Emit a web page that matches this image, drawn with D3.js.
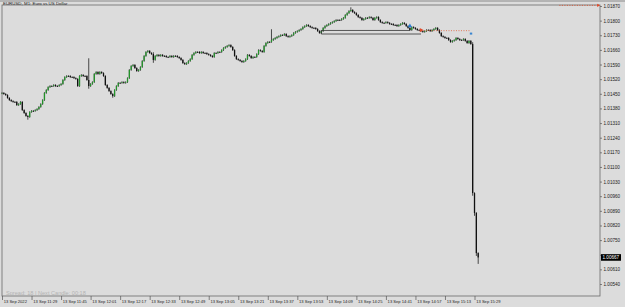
<!DOCTYPE html>
<html>
<head>
<meta charset="utf-8">
<script src="https://cdn.jsdelivr.net/npm/d3@7"></script>
<style>
  body { margin: 0; background: #dcdcdc; }
  svg { display: block; }
</style>
</head>
<body>
<div id="chart"></div>
<script>
// EURUSD M1 closes, 13 Sep 2022 11:13 -> 15:31
const firstOpen = 1.01452;
const closes = [
  1.01454, 1.01449, 1.01444, 1.01430, 1.01420, 1.01415, 1.01411, 1.01411, 1.01396, 1.01401,
  1.01411, 1.01372, 1.01358, 1.01344, 1.01339, 1.01363, 1.01368, 1.01368, 1.01372, 1.01377,
  1.01387, 1.01401, 1.01420, 1.01454, 1.01468, 1.01482, 1.01487, 1.01487, 1.01492, 1.01487,
  1.01487, 1.01492, 1.01497, 1.01516, 1.01530, 1.01535, 1.01535, 1.01530, 1.01530, 1.01525,
  1.01521, 1.01487, 1.01535, 1.01540, 1.01535, 1.01535, 1.01516, 1.01487, 1.01497, 1.01506,
  1.01545, 1.01554, 1.01545, 1.01554, 1.01549, 1.01535, 1.01492, 1.01478, 1.01463, 1.01449,
  1.01439, 1.01468, 1.01487, 1.01502, 1.01502, 1.01506, 1.01502, 1.01506, 1.01525, 1.01564,
  1.01583, 1.01588, 1.01573, 1.01559, 1.01564, 1.01578, 1.01607, 1.01631, 1.01650, 1.01655,
  1.01645, 1.01640, 1.01612, 1.01631, 1.01636, 1.01631, 1.01636, 1.01631, 1.01631, 1.01626,
  1.01626, 1.01631, 1.01626, 1.01631, 1.01631, 1.01626, 1.01621, 1.01612, 1.01597, 1.01592,
  1.01597, 1.01607, 1.01616, 1.01636, 1.01645, 1.01650, 1.01650, 1.01645, 1.01650, 1.01645,
  1.01645, 1.01640, 1.01636, 1.01631, 1.01626, 1.01645, 1.01645, 1.01650, 1.01650, 1.01659,
  1.01669, 1.01674, 1.01679, 1.01683, 1.01674, 1.01659, 1.01631, 1.01616, 1.01612, 1.01607,
  1.01602, 1.01607, 1.01616, 1.01636, 1.01631, 1.01621, 1.01626, 1.01626, 1.01640, 1.01659,
  1.01655, 1.01650, 1.01679, 1.01693, 1.01698, 1.01698, 1.01707, 1.01712, 1.01717, 1.01722,
  1.01726, 1.01731, 1.01731, 1.01736, 1.01726, 1.01722, 1.01726, 1.01731, 1.01741, 1.01746,
  1.01750, 1.01755, 1.01760, 1.01769, 1.01774, 1.01779, 1.01774, 1.01769, 1.01765, 1.01765,
  1.01760, 1.01750, 1.01741, 1.01750, 1.01765, 1.01774, 1.01779, 1.01784, 1.01789, 1.01793,
  1.01798, 1.01803, 1.01803, 1.01803, 1.01808, 1.01813, 1.01827, 1.01836, 1.01846, 1.01851,
  1.01841, 1.01836, 1.01827, 1.01817, 1.01813, 1.01803, 1.01808, 1.01813, 1.01813, 1.01817,
  1.01813, 1.01803, 1.01813, 1.01817, 1.01803, 1.01793, 1.01789, 1.01789, 1.01793, 1.01789,
  1.01784, 1.01784, 1.01779, 1.01779, 1.01774, 1.01779, 1.01784, 1.01789, 1.01784, 1.01774,
  1.01765, 1.01755, 1.01769, 1.01765, 1.01760, 1.01755, 1.01755, 1.01750, 1.01746, 1.01750,
  1.01755, 1.01755, 1.01750, 1.01755, 1.01760, 1.01765, 1.01755, 1.01741, 1.01726, 1.01722,
  1.01717, 1.01717, 1.01707, 1.01698, 1.01703, 1.01707, 1.01717, 1.01712, 1.01707, 1.01707,
  1.01712, 1.01703, 1.01693, 1.01703, 1.01688, 1.00975, 1.00880, 1.00688, 1.00667
];
// wicks that stick out past the body: [bar, high, low]
const wicks = [
  [14, 1.01344, 1.01330],
  [47, 1.01616, 1.01478],
  [60, 1.01449, 1.01435],
  [82, 1.01645, 1.01602],
  [146, 1.01755, 1.01698],
  [189, 1.01860, 1.01846],
  [255, 1.01693, 1.00966],
  [256, 1.00975, 1.00870],
  [257, 1.00880, 1.00678],
  [258, 1.00688, 1.00640]
];

const priceTicks = [1.01870, 1.01800, 1.01730, 1.01660, 1.01590, 1.01520, 1.01450, 1.01380,
  1.01310, 1.01240, 1.01170, 1.01100, 1.01030, 1.00960, 1.00890, 1.00820, 1.00750, 1.00680,
  1.00610, 1.00540];
const timeTickBars = [0, 16, 32, 48, 64, 80, 96, 112, 128, 144, 160, 176, 192, 208, 224, 240, 256];
const timeLabels = ["13 Sep 2022", "13 Sep 11:29", "13 Sep 11:45", "13 Sep 12:01", "13 Sep 12:17",
  "13 Sep 12:33", "13 Sep 12:49", "13 Sep 13:05", "13 Sep 13:21", "13 Sep 13:37", "13 Sep 13:53",
  "13 Sep 14:09", "13 Sep 14:25", "13 Sep 14:41", "13 Sep 14:57", "13 Sep 15:13", "13 Sep 15:29"];

// objects drawn on the chart
const boxLines = [
  {from: 173, to: 221, price: 1.01753},
  {from: 173, to: 227, price: 1.01736}
];
const buyArrow = {bar: 221, price: 1.01774};
const closeArrow = {bar: 227, price: 1.01755};
const tradeLine = {from: 227, to: 254, price: 1.01752};
const tradeEnd = {bar: 254, price: 1.01738};
const topLine = {from: 302, to: 323, price: 1.01873};
const bid = 1.00667;

const width = 625, height = 307;
const plotLeft = 2, plotRight = 600, plotTop = 5, plotBottom = 296;
const font = "'Liberation Sans', Arial, sans-serif";

const svg = d3.select("#chart").append("svg")
  .attr("width", width)
  .attr("height", height);

svg.append("rect")
  .attr("width", width).attr("height", height)
  .attr("fill", "#dcdcdc");

let x = d3.scaleLinear().domain([0, 258]).range([2, 478.2]);
let y = d3.scaleLinear().domain([1.00540, 1.01870]).range([284, 6]);

// candles
const bars = closes.map((c, i) => {
  let o = i === 0 ? firstOpen : closes[i - 1];
  let h = Math.max(o, c), l = Math.min(o, c);
  let w = wicks.find(d => d[0] === i);
  if (w) { h = Math.max(h, w[1]); l = Math.min(l, w[2]); }
  return {i: i, o: o, c: c, h: h, l: l};
});

let plot = svg.append("g");

plot.selectAll("line.wick")
  .data(bars)
  .join("line")
  .attr("class", "wick")
  .attr("x1", d => x(d.i)).attr("x2", d => x(d.i))
  .attr("y1", d => y(d.h) - 0.8)
  .attr("y2", d => y(d.l) + 0.8)
  .attr("stroke", "#222")
  .attr("stroke-width", 0.8);

plot.selectAll("rect.body")
  .data(bars)
  .join("rect")
  .attr("class", "body")
  .attr("x", d => x(d.i) - 0.65)
  .attr("width", 1.3)
  .attr("y", d => y(Math.max(d.o, d.c)))
  .attr("height", d => Math.max(0.8, Math.abs(y(d.o) - y(d.c))))
  .attr("fill", d => d.c > d.o ? "#23922a" : "#111");

// box object
plot.selectAll("line.box")
  .data(boxLines)
  .join("line")
  .attr("class", "box")
  .attr("x1", d => x(d.from)).attr("x2", d => x(d.to))
  .attr("y1", d => y(d.price)).attr("y2", d => y(d.price))
  .attr("stroke", "#333").attr("stroke-width", 0.8);
plot.append("line")
  .attr("x1", x(boxLines[0].from)).attr("x2", x(boxLines[0].from))
  .attr("y1", y(boxLines[0].price)).attr("y2", y(boxLines[1].price))
  .attr("stroke", "#333").attr("stroke-width", 0.8);

// trade markers
plot.append("line")
  .attr("x1", x(tradeLine.from)).attr("x2", x(tradeLine.to))
  .attr("y1", y(tradeLine.price)).attr("y2", y(tradeLine.price))
  .attr("stroke", "#e0603a").attr("stroke-width", 0.8)
  .attr("stroke-dasharray", "1,1.5");
plot.append("path")
  .attr("d", d3.symbol(d3.symbolTriangle, 8)())
  .attr("transform", `translate(${x(buyArrow.bar)},${y(buyArrow.price)})`)
  .attr("fill", "#2a7fd4");
plot.append("path")
  .attr("d", d3.symbol(d3.symbolTriangle, 8)())
  .attr("transform", `translate(${x(closeArrow.bar)},${y(closeArrow.price)}) rotate(90)`)
  .attr("fill", "#e04a2a");
plot.append("rect")
  .attr("x", x(tradeEnd.bar) - 1).attr("y", y(tradeEnd.price) - 1)
  .attr("width", 2.4).attr("height", 2)
  .attr("fill", "#3a86d0");

// frame
svg.append("line").attr("x1", 0).attr("x2", width).attr("y1", 1).attr("y2", 1)
  .attr("stroke", "#777").attr("stroke-width", 0.8);
svg.append("rect")
  .attr("x", plotLeft).attr("y", plotTop)
  .attr("width", plotRight - plotLeft).attr("height", plotBottom - plotTop)
  .attr("fill", "none").attr("stroke", "#6a6a6a").attr("stroke-width", 0.8);

// level line at the top right, drawn over the frame
svg.append("line")
  .attr("x1", x(topLine.from)).attr("x2", x(topLine.to))
  .attr("y1", y(topLine.price)).attr("y2", y(topLine.price))
  .attr("stroke", "#e0502a").attr("stroke-width", 0.9)
  .attr("stroke-dasharray", "1,1.5");
svg.append("path")
  .attr("d", d3.symbol(d3.symbolTriangle, 5)())
  .attr("transform", `translate(${x(topLine.to)},${y(topLine.price)}) rotate(90)`)
  .attr("fill", "#e04a2a");

// price axis
let yAxis = d3.axisRight(y)
  .tickValues(priceTicks)
  .tickSize(2)
  .tickPadding(1.5)
  .tickFormat(d => Math.abs(d - bid) < 0.0002 ? "" : d3.format(".5f")(d));
let yAxisGroup = svg.append("g")
  .attr("transform", "translate(" + plotRight + ",0)")
  .call(yAxis);
yAxisGroup.select(".domain").remove();
yAxisGroup.selectAll("line").attr("stroke", "#555").attr("stroke-width", 0.7);
yAxisGroup.selectAll("text")
  .attr("font-family", font).attr("font-size", "4.6px").attr("fill", "#222");

// time axis
let xAxis = d3.axisBottom(x)
  .tickValues(timeTickBars)
  .tickSize(4)
  .tickFormat((d, i) => timeLabels[i]);
let xAxisGroup = svg.append("g")
  .attr("transform", "translate(0," + plotBottom + ")")
  .call(xAxis);
xAxisGroup.select(".domain").remove();
xAxisGroup.selectAll("line").attr("stroke", "#555").attr("stroke-width", 0.7);
xAxisGroup.selectAll("text")
  .attr("text-anchor", "start")
  .attr("x", 1.2)
  .attr("y", 4.3)
  .attr("font-family", font).attr("font-size", "4.1px").attr("fill", "#222");

// bid label
svg.append("rect")
  .attr("x", plotRight + 1).attr("y", y(bid) - 3.3)
  .attr("width", 20).attr("height", 6.6)
  .attr("fill", "#000");
svg.append("text")
  .attr("x", plotRight + 2.5).attr("y", y(bid) + 1.7)
  .attr("font-family", font).attr("font-size", "4.6px").attr("fill", "#fff")
  .text(d3.format(".5f")(bid));

// titles
svg.append("text")
  .attr("x", 3).attr("y", 4.6)
  .attr("font-family", font).attr("font-size", "4.4px").attr("fill", "#222")
  .text("EURUSD, M1:  Euro vs US Dollar");

svg.append("text")
  .attr("x", 6).attr("y", 294.5)
  .attr("font-family", font).attr("font-size", "5.6px").attr("fill", "#b3b3b3")
  .text("Spread: 18 | Next Candle: 00:18");
</script>
</body>
</html>
